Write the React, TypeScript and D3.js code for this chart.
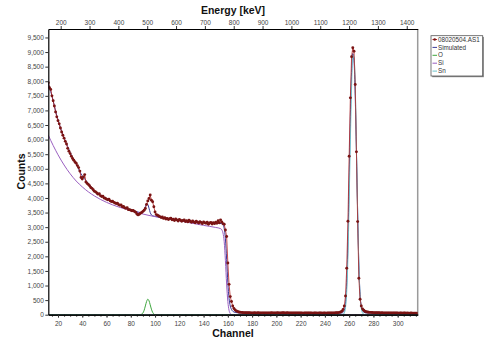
import React, { useEffect, useRef } from "react";
import * as d3 from "d3";

// ---- data ----//

const firstChannel = 12;

// measured counts, one value per channel starting at channel 12
const measuredCounts = [
  7950, 7780, 7720, 7500, 7330, 7150, 6950, 6780, 6650, 6540, 6400, 6260, 6150, 6050, 5940,
  5850, 5700, 5600, 5520, 5430, 5350, 5290, 5230, 5190, 5110, 5040, 4920, 4700, 4650,
  4720, 4800, 4550, 4500, 4460, 4420, 4360, 4330, 4280, 4230, 4210, 4170, 4130, 4150, 4080,
  4050, 4060, 4000, 3990, 3960, 3940, 3960, 3900, 3880, 3890, 3850, 3830, 3810, 3820, 3770,
  3750, 3760, 3700, 3710, 3660, 3650, 3670, 3600,
  3600, 3580, 3560, 3570, 3540, 3510, 3450, 3420, 3440, 3480, 3500, 3540, 3580, 3640, 3780,
  3900, 3980, 4100, 3920, 3870, 3700, 3520, 3430, 3410, 3380,
  3360, 3330, 3350, 3300, 3320, 3280, 3300, 3260, 3290, 3310,
  3250, 3270, 3230, 3280, 3250, 3210, 3260, 3240, 3200, 3230,
  3250, 3190, 3220, 3180, 3240, 3200, 3170, 3210, 3180, 3150,
  3200, 3170, 3140, 3190, 3160, 3120, 3180, 3150, 3130, 3170,
  3100, 3140, 3160, 3110, 3150, 3120, 3170, 3130, 3220, 3150,
  3250, 3180, 3120, 3100,
  2900, 2680, 1770, 1040, 620, 450, 300, 210, 160, 130, 110, 95, 85,
  80, 75, 72, 70, 68, 66, 65, 70, 62, 64, 60, 66, 58, 62, 65, 60, 57, 63, 61, 58,
  64, 60, 56, 62, 59, 65, 61, 58, 63, 60, 66, 62, 58, 64, 70, 65, 62, 60, 67, 63,
  58, 62, 60, 56, 61, 59, 63, 57, 60, 58, 62, 55, 59, 61, 57, 60, 56, 58, 62, 55,
  59, 57, 60, 54, 58, 56, 61, 55, 58, 57, 53, 59, 56, 58, 60, 57, 62, 60, 65, 68,
  72, 80, 95,
  120, 180, 300, 640, 1590, 3200, 5430, 7430, 8840, 9150, 9030, 7890, 5580, 3190, 1250,
  530, 300, 200, 150, 120, 100, 90,
  85, 80, 78, 75, 72, 70, 68, 66, 70, 65, 63, 66, 62, 60, 64, 61, 58, 63, 60, 57,
  62, 59, 56, 60, 58, 55, 59, 57, 54, 58, 56, 53, 57, 55, 52, 56, 54, 51, 55, 53, 50,
];

// [channel, counts]
const simulatedCurve: [number, number][] = [
  [12, 7900], [14, 7650], [16, 7330], [18, 6980], [20, 6680], [22, 6410], [24, 6170],
  [26, 5960], [28, 5760], [30, 5560], [32, 5380], [34, 5230], [36, 5090], [38, 4900],
  [40, 4760], [43, 4600], [46, 4440], [50, 4250], [55, 4090], [60, 3970], [65, 3860],
  [70, 3770], [75, 3680], [80, 3600], [85, 3530], [88, 3500], [90, 3540], [91, 3600],
  [92, 3700], [93, 3800], [94, 3780], [95, 3650], [96, 3500], [97, 3420], [98, 3390],
  [100, 3370], [110, 3300], [120, 3240], [130, 3190], [140, 3160], [150, 3140],
  [155, 3120], [156, 3080], [157, 2950], [158, 2600], [159, 1900], [160, 1100],
  [161, 560], [162, 300], [163, 180], [164, 120], [166, 80], [170, 60], [200, 50],
  [250, 50], [254, 60], [255, 80], [256, 150], [257, 400], [258, 1100], [259, 2500],
  [260, 4600], [261, 6800], [262, 8300], [263, 8950], [264, 8700], [265, 7500],
  [266, 5600], [267, 3500], [268, 1700], [269, 700], [270, 280], [271, 140], [272, 90],
  [274, 60], [316, 50],
];

const oxygenCurve: [number, number][] = [
  [12, 0], [88, 0], [89, 20], [90, 60], [91, 150], [92, 300], [93, 450], [94, 530],
  [95, 480], [96, 340], [97, 190], [98, 80], [99, 25], [100, 0], [316, 0],
];

const siliconCurve: [number, number][] = [
  [12, 6150], [16, 5800], [20, 5480], [25, 5130], [30, 4830], [35, 4580], [40, 4380],
  [45, 4210], [50, 4070], [55, 3950], [60, 3850], [70, 3690], [80, 3570], [90, 3450],
  [100, 3360], [110, 3290], [120, 3220], [130, 3140], [140, 3060], [150, 2990],
  [154, 2950], [155, 2910], [156, 2800], [157, 2500], [158, 1850], [159, 1050],
  [160, 450], [161, 150], [162, 40], [163, 0], [316, 0],
];

const tinCurve: [number, number][] = [
  [12, 0], [254, 0], [255, 10], [256, 60], [257, 250], [258, 800], [259, 2000],
  [260, 3900], [261, 6000], [262, 7800], [263, 8900], [264, 8800], [265, 7900],
  [266, 5700], [267, 3500], [268, 1700], [269, 650], [270, 220], [271, 60], [272, 15],
  [273, 0], [316, 0],
];

const countTicks = [0, 500, 1000, 1500, 2000, 2500, 3000, 3500, 4000, 4500, 5000, 5500, 6000, 6500, 7000, 7500, 8000, 8500, 9000, 9500];
const channelTicks = [20, 40, 60, 80, 100, 120, 140, 160, 180, 200, 220, 240, 260, 280, 300];
const energyTicks = [200, 300, 400, 500, 600, 700, 800, 900, 1000, 1100, 1200, 1300, 1400];

const legendLabels = ["08020504.AS1", "Simulated", "O", "Si", "Sn"];
const legendColors = ["#b22222", "#3a3a9a", "#3fa63f", "#9a5fc0", "#6cc3cc"];

function App() {
  const svgRef = useRef<SVGSVGElement>(null);

  useEffect(() => {
    drawChart();
  }, []);

  const drawChart = () => {
    const svg = d3.select(svgRef.current);
    svg.selectAll("*").remove();

    // ---- dimensions ----//
    const plot = { left: 48.3, right: 417.7, top: 29, bottom: 314.7 };
    const font = "'Liberation Sans', Arial, sans-serif";

    // ---- scales ----//
    const xScale = d3.scaleLinear().domain([12, 316.5]).range([plot.left, plot.right]);
    const energyScale = d3.scaleLinear().domain([157, 1438]).range([plot.left, plot.right]);
    const yScale = d3.scaleLinear().domain([0, 9790]).range([plot.bottom, plot.top]);

    svg.append("rect").attr("width", 500).attr("height", 353).attr("fill", "white");

    svg
      .append("defs")
      .append("clipPath")
      .attr("id", "plotClip")
      .append("rect")
      .attr("x", plot.left)
      .attr("y", plot.top)
      .attr("width", plot.right - plot.left)
      .attr("height", plot.bottom - plot.top);

    // right border
    svg
      .append("line")
      .attr("x1", plot.right)
      .attr("x2", plot.right)
      .attr("y1", plot.top)
      .attr("y2", plot.bottom)
      .attr("stroke", "#9a9a9a")
      .attr("stroke-width", 1.5);

    // ---- lines ----//
    const line = d3
      .line<[number, number]>()
      .x((d) => xScale(d[0]))
      .y((d) => yScale(d[1]))
      .curve(d3.curveMonotoneX);

    const curves = svg.append("g").attr("clip-path", "url(#plotClip)");

    const fits: [[number, number][], string][] = [
      [simulatedCurve, legendColors[1]],
      [oxygenCurve, legendColors[2]],
      [siliconCurve, legendColors[3]],
      [tinCurve, legendColors[4]],
    ];
    fits.forEach(([pts, color]) => {
      curves
        .append("path")
        .attr("d", line(pts))
        .attr("fill", "none")
        .attr("stroke", color)
        .attr("stroke-width", 1);
    });

    const measured: [number, number][] = measuredCounts.map((c, i) => [firstChannel + i, c]);

    curves
      .append("path")
      .attr("d", line.curve(d3.curveLinear)(measured))
      .attr("fill", "none")
      .attr("stroke", legendColors[0])
      .attr("stroke-width", 0.8);

    curves
      .selectAll("circle")
      .data(measured)
      .join("circle")
      .attr("cx", (d) => xScale(d[0]))
      .attr("cy", (d) => yScale(d[1]))
      .attr("r", 1.45)
      .attr("fill", "#7a1414");

    // ---- axes ----//
    const styleAxis = (g: any) => {
      g.select(".domain").attr("stroke", "#000").attr("stroke-width", 1.2);
      g.selectAll(".tick line").attr("stroke", "#333");
      g.selectAll(".tick text")
        .attr("fill", "#444")
        .style("font-family", font)
        .style("font-size", "6.5px");
    };

    svg
      .append("g")
      .attr("transform", `translate(0,${plot.bottom})`)
      .call(
        d3
          .axisBottom(xScale)
          .tickValues(d3.range(15, 317, 5))
          .tickSize(2)
          .tickSizeOuter(0)
          .tickFormat(() => "")
      )
      .call(styleAxis);

    svg
      .append("g")
      .attr("transform", `translate(0,${plot.bottom})`)
      .call(
        d3
          .axisBottom(xScale)
          .tickValues(channelTicks)
          .tickFormat(d3.format("d"))
          .tickSize(3)
          .tickPadding(4)
          .tickSizeOuter(0)
      )
      .call(styleAxis);

    svg
      .append("g")
      .attr("transform", `translate(0,${plot.top})`)
      .call(
        d3
          .axisTop(energyScale)
          .tickValues(energyTicks)
          .tickFormat(d3.format("d"))
          .tickSize(3)
          .tickPadding(1)
          .tickSizeOuter(0)
      )
      .call(styleAxis);

    svg
      .append("g")
      .attr("transform", `translate(${plot.left},0)`)
      .call(
        d3
          .axisLeft(yScale)
          .tickValues(countTicks)
          .tickFormat(d3.format(","))
          .tickSize(3)
          .tickPadding(1.5)
          .tickSizeOuter(0)
      )
      .call(styleAxis);

    // ---- titles ----//
    const title = (text: string) =>
      svg
        .append("text")
        .text(text)
        .attr("text-anchor", "middle")
        .style("font-family", font)
        .style("font-size", "10.5px")
        .style("font-weight", "bold")
        .attr("fill", "#111");

    title("Energy [keV]").attr("x", (plot.left + plot.right) / 2).attr("y", 14);
    title("Channel").attr("x", (plot.left + plot.right) / 2).attr("y", 336.5);
    title("Counts").attr("transform", "translate(25,171.5) rotate(-90)");

    // ---- legend ----//
    const legend = svg.append("g").attr("transform", "translate(431,35.7)");
    legend
      .append("rect")
      .attr("x", 1.2)
      .attr("y", 1.2)
      .attr("width", 51.7)
      .attr("height", 40.3)
      .attr("fill", "#888");
    legend
      .append("rect")
      .attr("width", 51.7)
      .attr("height", 40.3)
      .attr("fill", "white")
      .attr("stroke", "#555")
      .attr("stroke-width", 0.8);

    legendLabels.forEach((label, i) => {
      const yy = 3.8 + i * 7.9;
      legend
        .append("line")
        .attr("x1", 1.5)
        .attr("x2", 6)
        .attr("y1", yy)
        .attr("y2", yy)
        .attr("stroke", legendColors[i])
        .attr("stroke-width", 1);
      if (i === 0) {
        legend.append("circle").attr("cx", 3.7).attr("cy", yy).attr("r", 1.3).attr("fill", "#7a1414");
      }
      legend
        .append("text")
        .text(label)
        .attr("x", 7)
        .attr("y", yy)
        .attr("dy", "0.35em")
        .style("font-family", font)
        .style("font-size", "6.3px")
        .attr("fill", "#333");
    });
  };

  return (
    <svg
      ref={svgRef}
      width={500}
      height={353}
      style={{ position: "absolute", left: 0, top: 0, display: "block" }}
    />
  );
}

export default App;
